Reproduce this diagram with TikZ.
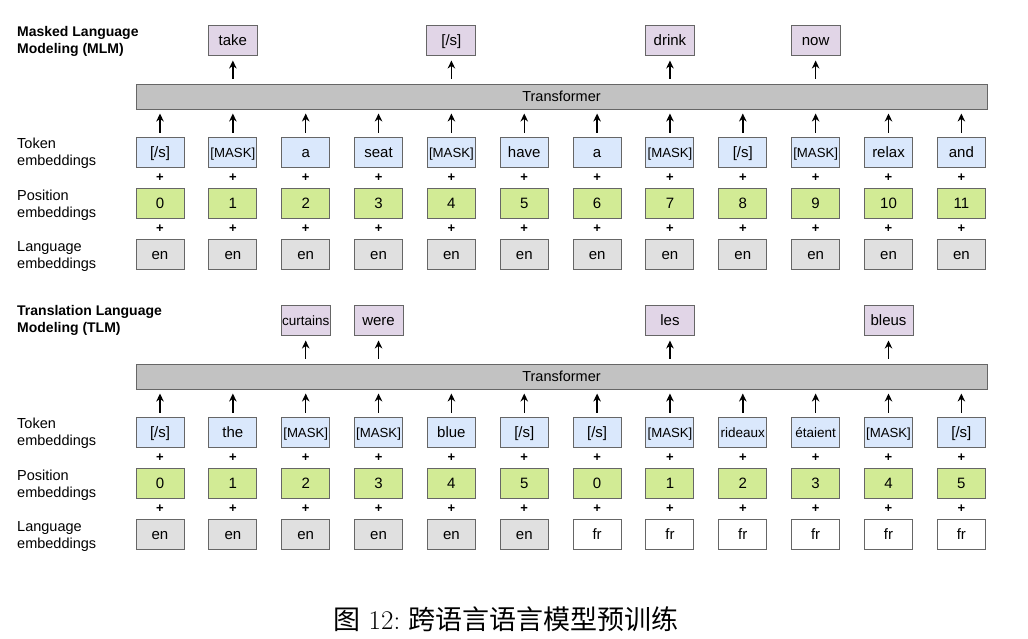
\documentclass[tikz,border=0pt]{standalone}
\usepackage{fontspec}
\newfontfamily\sansf{Liberation Sans}
\newfontfamily\cjk{Noto Sans CJK SC}
\usetikzlibrary{arrows.meta,calc}
\definecolor{outfill}{HTML}{E1D5E7}
\definecolor{tokfill}{HTML}{DAE8FC}
\definecolor{posfill}{HTML}{D2EB95}
\definecolor{langfill}{HTML}{E0E0E0}
\definecolor{transfill}{HTML}{C2C2C2}
\definecolor{edge}{HTML}{666666}
\newcommand\maskt{{\fontsize{13.2}{14}\selectfont[MASK]}}
\newcommand\smw[1]{{\fontsize{13.5}{14}\selectfont #1}}
\tikzset{
  basebox/.style={draw=edge, line width=1pt, minimum width=48pt, minimum height=30pt,
    inner sep=0pt, text height=10.5pt, text depth=0pt,
    font=\sansf\fontsize{15}{17}\selectfont},
  tokbox/.style={basebox, fill=tokfill},
  posbox/.style={basebox, fill=posfill},
  langbox/.style={basebox, fill=langfill},
  frbox/.style={basebox, fill=white},
  outbox/.style={basebox, fill=outfill, minimum width=49pt},
  transbox/.style={draw=edge, line width=1pt, fill=transfill, minimum width=851pt,
    minimum height=25pt, inner sep=0pt, text height=10pt, text depth=0pt,
    font=\sansf\fontsize{14.5}{16}\selectfont},
  uparrow/.style={-{Stealth[length=8pt,width=7.5pt]}, line width=1.5pt, black},
  plussign/.style={inner sep=0pt, font=\sansf\bfseries\fontsize{13}{13}\selectfont},
  titletext/.style={anchor=north west, inner sep=0pt, align=left,
    font=\sansf\bfseries\fontsize{14}{17}\selectfont},
  rowlabel/.style={anchor=north west, inner sep=0pt, align=left,
    font=\sansf\fontsize{14.5}{17}\selectfont},
}
\newcommand\embsection[6]{%
  \node[transbox] (#1tr) at (561.5,96.5+#2) {Transformer};
  \foreach \w [count=\i from 0] in {#3} {
    \node[tokbox] (#1t\i) at (160+72.85*\i,152+#2) {\w};
    \draw[uparrow, shorten <=4pt, shorten >=4pt] (#1t\i.north) -- (#1t\i.north |- #1tr.south);
  }
  \foreach \w [count=\i from 0] in {#4} {
    \node[posbox] (#1p\i) at (160+72.85*\i,203+#2) {\w};
    \node[plussign] (#1pa\i) at ($(#1t\i.south)!0.5!(#1p\i.north)$) {+};
  }
  \foreach \st/\w [count=\i from 0] in {#5} {
    \node[\st] (#1l\i) at (160+72.85*\i,254+#2) {\w};
    \node[plussign] (#1pb\i) at ($(#1p\i.south)!0.5!(#1l\i.north)$) {+};
  }
  \foreach \c/\w in {#6} {
    \node[outbox] (#1o\c) at (160+72.85*\c,40+#2) {\w};
    \draw[uparrow, shorten <=5pt, shorten >=5pt] (#1tr.north -| #1o\c.south) -- (#1o\c.south);
  }
}
\begin{document}
\begin{tikzpicture}[x=1pt,y=-1pt]
\useasboundingbox (0,0) rectangle (1028,638);
% MLM
\node[titletext] (mlmtitle) at (17,26) {Masked Language\\Modeling (MLM)};
\node[rowlabel] (mlmtok) at (17,138) {Token\\embeddings};
\node[rowlabel] (mlmpos) at (17,190) {Position\\embeddings};
\node[rowlabel] (mlmlang) at (17,241) {Language\\embeddings};
\embsection{a}{0}
  {{[/s]},\maskt,a,seat,\maskt,have,a,\maskt,{[/s]},\maskt,relax,and}
  {0,1,2,3,4,5,6,7,8,9,10,11}
  {langbox/en,langbox/en,langbox/en,langbox/en,langbox/en,langbox/en,langbox/en,langbox/en,langbox/en,langbox/en,langbox/en,langbox/en}
  {1/take,4/{[/s]},7/drink,9/now}
% TLM
\node[titletext] (tlmtitle) at (17,305) {Translation Language\\Modeling (TLM)};
\node[rowlabel] (tlmtok) at (17,418) {Token\\embeddings};
\node[rowlabel] (tlmpos) at (17,470) {Position\\embeddings};
\node[rowlabel] (tlmlang) at (17,521) {Language\\embeddings};
\embsection{b}{280}
  {{[/s]},the,\maskt,\maskt,blue,{[/s]},{[/s]},\maskt,\smw{rideaux},\smw{étaient},\maskt,{[/s]}}
  {0,1,2,3,4,5,0,1,2,3,4,5}
  {langbox/en,langbox/en,langbox/en,langbox/en,langbox/en,langbox/en,frbox/fr,frbox/fr,frbox/fr,frbox/fr,frbox/fr,frbox/fr}
  {2/\smw{curtains},3/were,7/les,10/bleus}
% caption
\node[inner sep=0pt, font=\fontsize{27}{30}\selectfont] (caption) at (506,619)
  {{\cjk 图}~12:~{\cjk 跨语言语言模型预训练}};
\end{tikzpicture}
\end{document}
